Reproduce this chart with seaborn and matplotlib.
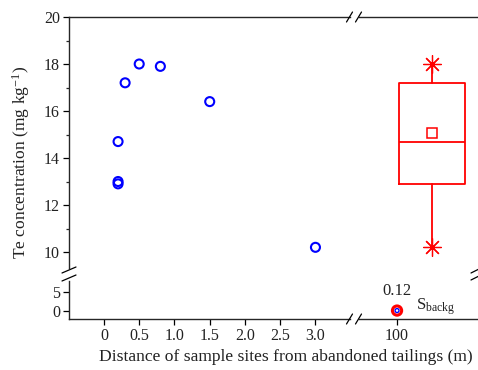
import matplotlib

matplotlib.use("Agg")
import matplotlib.pyplot as plt
import pandas as pd
import seaborn as sns
from matplotlib.lines import Line2D

# near-site samples (blue circles)
distance_m = [0.2, 0.2, 0.2, 0.3, 0.5, 0.8, 1.5, 3.0]
te_mg_kg = [14.7, 13.0, 12.9, 17.2, 18.0, 17.9, 16.4, 10.2]
near_ticks = [0, 0.5, 1.0, 1.5, 2.0, 2.5, 3.0]
near_tick_labels = ["0", "0.5", "1.0", "1.5", "2.0", "2.5", "3.0"]

# background site
background_distance = [100]
background_te = [0.12]
background_text = "0.12"

# box summary as drawn in the figure
box_position = 101
box_q1 = 12.9
box_median = 14.7
box_q3 = 17.2
box_mean = 15.05
box_min = 10.2
box_max = 18.0

W, H = 478, 370
BLUE = "#0000ff"
RED = "#ff0000"

sns.set_style("ticks")
plt.rcParams["font.family"] = ["Liberation Serif", "DejaVu Serif"]
plt.rcParams["mathtext.fontset"] = "custom"
plt.rcParams["mathtext.rm"] = "Liberation Serif"
plt.rcParams["mathtext.it"] = "Liberation Serif:italic"


def px_box(left, top, right, bottom):
    return [left / W, 1 - bottom / H, (right - left) / W, (bottom - top) / H]


def px_line(fig, x0, y0, x1, y1):
    fig.add_artist(Line2D([x0 / W, x1 / W], [1 - y0 / H, 1 - y1 / H],
                          transform=fig.transFigure, color="black", lw=0.9))


fig = plt.figure(figsize=(W / 100, H / 100), dpi=100)
ax_ul = fig.add_axes(px_box(69, 17, 350, 268))
ax_ur = fig.add_axes(px_box(359, 17, 479, 268))
ax_ll = fig.add_axes(px_box(69, 281, 350, 319))
ax_lr = fig.add_axes(px_box(359, 281, 479, 319))

for ax in (ax_ul, ax_ur, ax_ll, ax_lr):
    ax.set_facecolor("none")
    for side in ("left", "right", "top", "bottom"):
        ax.spines[side].set_visible(False)
        ax.spines[side].set_linewidth(1.0)
    ax.tick_params(labelsize=11.5, length=4, width=0.9, colors="black",
                   labelcolor="#222222", pad=2.5)
    ax.tick_params(which="minor", length=2.5, width=0.9)

ax_ul.spines["left"].set_visible(True)
ax_ul.spines["top"].set_visible(True)
ax_ur.spines["top"].set_visible(True)
ax_ll.spines["left"].set_visible(True)
ax_ll.spines["bottom"].set_visible(True)
ax_lr.spines["bottom"].set_visible(True)

near = pd.DataFrame({"distance": distance_m, "te": te_mg_kg})
sns.scatterplot(data=near, x="distance", y="te", ax=ax_ul, marker="o", s=42,
                facecolor="none", edgecolor=BLUE, linewidth=1.5)

bg = pd.DataFrame({"distance": background_distance, "te": background_te})
sns.scatterplot(data=bg, x="distance", y="te", ax=ax_lr, marker="o", s=44,
                facecolor="none", edgecolor=RED, linewidth=2.2, zorder=3)
sns.scatterplot(data=bg, x="distance", y="te", ax=ax_lr, marker="o", s=8,
                facecolor="none", edgecolor=BLUE, linewidth=1.0, zorder=4)
ax_lr.annotate(background_text, (background_distance[0], background_te[0]),
               xytext=(0, 8.5), textcoords="offset points", ha="center",
               va="bottom", fontsize=12, color="#222222",
               annotation_clip=False)
ax_lr.annotate(r"S$_{\rm backg}$", (background_distance[0], background_te[0]),
               xytext=(14, 3), textcoords="offset points", ha="left",
               va="center", fontsize=12, color="#222222",
               annotation_clip=False)

stats = [{
    "q1": box_q1, "med": box_median, "q3": box_q3, "mean": box_mean,
    "whislo": box_min, "whishi": box_max, "fliers": [box_min, box_max],
}]
ax_ur.bxp(stats, positions=[box_position], widths=1.88, showmeans=True,
          showcaps=False, showfliers=True,
          boxprops=dict(color=RED, linewidth=1.3),
          medianprops=dict(color=RED, linewidth=1.3),
          whiskerprops=dict(color=RED, linewidth=1.3),
          meanprops=dict(marker="s", markersize=7.5, markerfacecolor="white",
                         markeredgecolor=RED, markeredgewidth=1.1),
          flierprops=dict(marker=(8, 2, 0), markersize=13,
                          markeredgecolor=RED, markeredgewidth=0.9))

ax_ul.set_xlim(-0.496, 3.49)
ax_ll.set_xlim(-0.496, 3.49)
ax_ur.set_xlim(98.914, 102.34)
ax_lr.set_xlim(98.914, 102.34)
ax_ul.set_ylim(9.32, 20)
ax_ur.set_ylim(9.32, 20)
ax_ll.set_ylim(-2.1, 7.9)
ax_lr.set_ylim(-2.1, 7.9)

ax_ul.set_yticks([10, 12, 14, 16, 18, 20])
ax_ul.set_yticks([11, 13, 15, 17, 19], minor=True)
ax_ul.set_xticks([])
ax_ur.set_xticks([])
ax_ur.set_yticks([])
ax_ll.set_yticks([0, 5])
ax_ll.set_xticks(near_ticks)
ax_ll.set_xticklabels(near_tick_labels)
ax_lr.set_yticks([])
ax_lr.set_xticks(background_distance)
ax_lr.set_xticklabels([str(v) for v in background_distance])

for ax in (ax_ul, ax_ur, ax_ll, ax_lr):
    ax.set_xlabel("")
    ax.set_ylabel("")

# break marks
for y in (270, 278):
    px_line(fig, 62, y + 3, 76, y - 3)
for y in (17, 319):
    for x in (349.5, 358.5):
        px_line(fig, x - 3, y + 5, x + 3, y - 5)
for y in (271, 278):
    px_line(fig, 471, y + 2, 479, y - 2)

fig.text(0.043, 0.56, r"Te concentration (mg kg$^{-1}$)", rotation=90,
         ha="center", va="center", fontsize=12.6, color="#222222")
fig.text(0.597, 0.035, "Distance of sample sites from abandoned tailings (m)",
         ha="center", va="center", fontsize=12.6, color="#222222")

fig.savefig("out.png", dpi=100)
